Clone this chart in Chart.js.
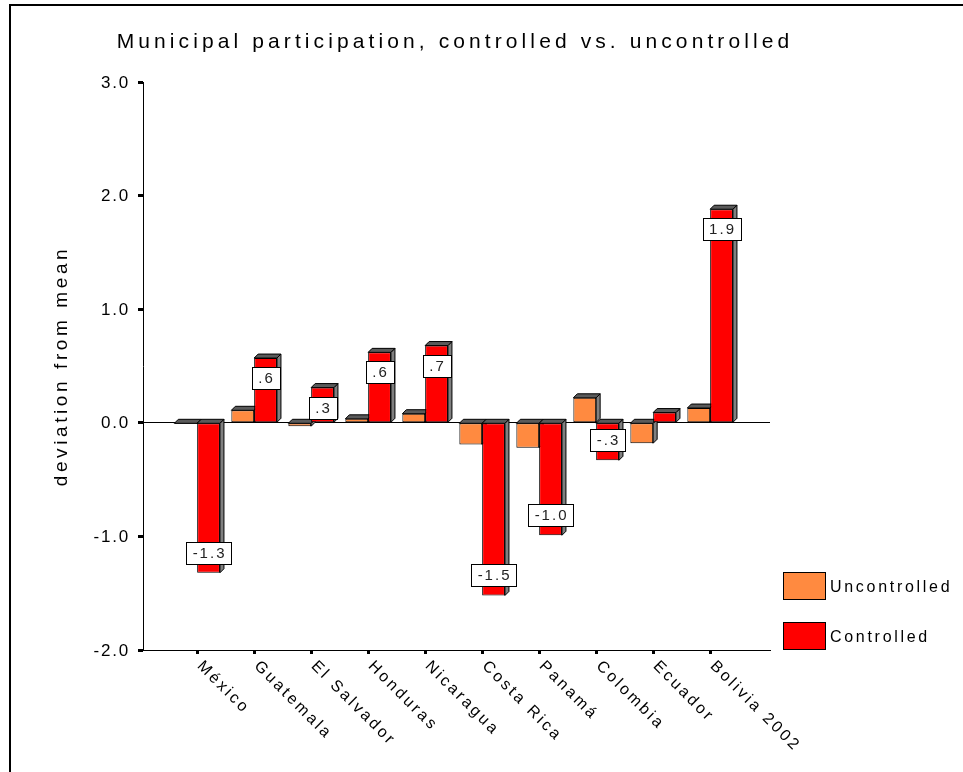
<!doctype html>
<html>
<head>
	<title>Municipal participation</title>
	<script src="https://cdn.jsdelivr.net/npm/chart.js@4.4.1"></script>
	<style>
	* { margin: 0; padding: 0; }
	body { background: white; }
	canvas { display: block; }
	</style>
</head>
<body>
	<canvas id="canvas_bar" width="963" height="772"></canvas>
</body>
<script type="text/javascript">
	// values
	var countries = ['México','Guatemala','El Salvador','Honduras','Nicaragua','Costa Rica','Panamá','Colombia','Ecuador','Bolivia 2002'];
	var uncontrolled = [-0.01, 0.11, -0.03, 0.035, 0.08, -0.19, -0.22, 0.22, -0.18, 0.13];
	var controlled = [-1.32, 0.57, 0.31, 0.62, 0.68, -1.52, -0.99, -0.33, 0.09, 1.88];
	var yTicks = [-2, -1, 0, 1, 2, 3];
	var titleText = 'Municipal participation, controlled vs. uncontrolled';
	var yTitle = 'deviation from mean';

	var FONT = '"Liberation Sans", Arial, sans-serif';
	var DEPTH = 4;

	function toPoints(arr) {
		return arr.map(function(v, i) { return {x: i, y: v}; });
	}

	function fmt(v) {
		return v.toFixed(1).replace(/^(-?)0\./, '$1.');
	}

	function spacedText(ctx, text, x, y, size, spacing, align, baseline) {
		ctx.font = size + 'px ' + FONT;
		ctx.letterSpacing = spacing + 'px';
		ctx.textAlign = align;
		ctx.textBaseline = baseline;
		ctx.fillText(text, x, y);
		ctx.letterSpacing = '0px';
	}

	// 3D side and top faces, drawn behind the front faces
	var depthPlugin = {
		id: 'depth',
		beforeDatasetsDraw: function(chart) {
			var ctx = chart.ctx;
			ctx.save();
			ctx.lineWidth = 1;
			ctx.strokeStyle = '#000';
			chart.data.datasets.forEach(function(ds, di) {
				chart.getDatasetMeta(di).data.forEach(function(bar) {
					var p = bar.getProps(['x','y','base','width'], true);
					var l = p.x - p.width / 2, r = p.x + p.width / 2;
					var t = Math.min(p.y, p.base), b = Math.max(p.y, p.base);
					ctx.fillStyle = '#808080';
					ctx.beginPath();
					ctx.moveTo(r, t); ctx.lineTo(r + DEPTH, t - DEPTH);
					ctx.lineTo(r + DEPTH, b - DEPTH); ctx.lineTo(r, b);
					ctx.closePath(); ctx.fill(); ctx.stroke();
					ctx.fillStyle = '#5a5a5a';
					ctx.beginPath();
					ctx.moveTo(l, t); ctx.lineTo(l + DEPTH, t - DEPTH);
					ctx.lineTo(r + DEPTH, t - DEPTH); ctx.lineTo(r, t);
					ctx.closePath(); ctx.fill(); ctx.stroke();
				});
			});
			ctx.restore();
		}
	};

	var decorPlugin = {
		id: 'decor',
		afterDraw: function(chart) {
			var ctx = chart.ctx, area = chart.chartArea;
			var xs = chart.scales.x, ys = chart.scales.y;
			ctx.save();
			ctx.fillStyle = '#000';

			// frame
			ctx.fillRect(9, 4, 2, chart.height);
			ctx.fillRect(9, 4, chart.width, 2);

			// title
			spacedText(ctx, titleText, 455, 48, 21, 4.1, 'center', 'alphabetic');

			// y tick labels
			yTicks.forEach(function(v) {
				spacedText(ctx, v.toFixed(1), 130, ys.getPixelForValue(v) + 1, 17, 1.8, 'right', 'middle');
			});

			// y title
			ctx.save();
			ctx.translate(62, (area.top + area.bottom) / 2);
			ctx.rotate(-Math.PI / 2);
			spacedText(ctx, yTitle, 0, 0, 19, 3.6, 'center', 'middle');
			ctx.restore();

			// rotated category labels
			countries.forEach(function(c, i) {
				ctx.save();
				ctx.translate(xs.getPixelForValue(i) + 8, area.bottom + 8);
				ctx.rotate(Math.PI / 4);
				spacedText(ctx, c, 0, 0, 16, 2.8, 'left', 'top');
				ctx.restore();
			});

			// value boxes on the controlled bars
			var meta = chart.getDatasetMeta(1);
			controlled.forEach(function(v, i) {
				if (Math.abs(v) < 0.15) return;
				var p = meta.data[i].getProps(['x','y'], true);
				var txt = fmt(v);
				ctx.font = '15px ' + FONT;
				ctx.letterSpacing = '2px';
				var w = Math.round(ctx.measureText(txt).width + 11), h = 22;
				var cy = Math.round(v >= 0 ? p.y + 20 : p.y - 20);
				var bx = Math.round(p.x - w / 2);
				ctx.fillStyle = '#fff';
				ctx.fillRect(bx, cy - h / 2, w, h);
				ctx.strokeStyle = '#000';
				ctx.lineWidth = 1;
				ctx.strokeRect(bx + 0.5, cy - h / 2 + 0.5, w, h);
				ctx.fillStyle = '#222';
				spacedText(ctx, txt, p.x + 1, cy + 1, 15, 2, 'center', 'middle');
			});

			// legend
			var n = chart.data.datasets.length;
			chart.data.datasets.forEach(function(ds, i) {
				var bx = area.right + 13;
				var by = area.bottom - 28 - (n - 1 - i) * 50;
				ctx.fillStyle = ds.backgroundColor;
				ctx.fillRect(bx, by, 42, 27);
				ctx.strokeStyle = '#000';
				ctx.lineWidth = 1;
				ctx.strokeRect(bx + 0.5, by + 0.5, 42, 27);
				ctx.fillStyle = '#000';
				spacedText(ctx, ds.label, bx + 47, by + 16, 16, 2.7, 'left', 'middle');
			});
			ctx.restore();
		}
	};

	var bar_data = {
		datasets: [
			{
				label: 'Uncontrolled',
				data: toPoints(uncontrolled),
				backgroundColor: 'rgb(255,138,64)',
				borderColor: '#000',
				borderWidth: 1,
				borderSkipped: false
			},
			{
				label: 'Controlled',
				data: toPoints(controlled),
				backgroundColor: 'rgb(255,0,0)',
				borderColor: '#000',
				borderWidth: 1,
				borderSkipped: false
			}
		]
	};

	var bar_config = {
		type: 'bar',
		data: bar_data,
		options: {
			responsive: false,
			animation: false,
			devicePixelRatio: 1,
			categoryPercentage: 0.8,
			barPercentage: 1.0,
			layout: {
				padding: { left: 0, right: 193, top: 82, bottom: 112 }
			},
			scales: {
				x: {
					type: 'linear',
					offset: false,
					min: -0.95,
					max: 10.05,
					afterBuildTicks: function(scale) {
						scale.ticks = countries.map(function(c, i) { return {value: i}; });
					},
					afterFit: function(scale) { scale.height = 10; },
					grid: {
						offset: false,
						drawOnChartArea: false,
						tickLength: 4,
						tickWidth: 3,
						tickColor: '#000'
					},
					border: { color: '#000', width: 1 },
					ticks: { display: false }
				},
				y: {
					min: -2,
					max: 3,
					afterBuildTicks: function(scale) {
						scale.ticks = yTicks.map(function(v) { return {value: v}; });
					},
					afterFit: function(scale) { scale.width = 143; },
					grid: {
						color: function(c) { return c.tick && c.tick.value === 0 ? '#000' : 'rgba(0,0,0,0)'; },
						tickColor: '#000',
						tickLength: 5,
						tickWidth: 3
					},
					border: { color: '#000', width: 1 },
					ticks: { display: false }
				}
			},
			plugins: {
				legend: { display: false },
				tooltip: { enabled: false }
			}
		},
		plugins: [depthPlugin, decorPlugin]
	};

	var bar_Chart = new Chart(document.getElementById('canvas_bar'), bar_config);
</script>
</html>
